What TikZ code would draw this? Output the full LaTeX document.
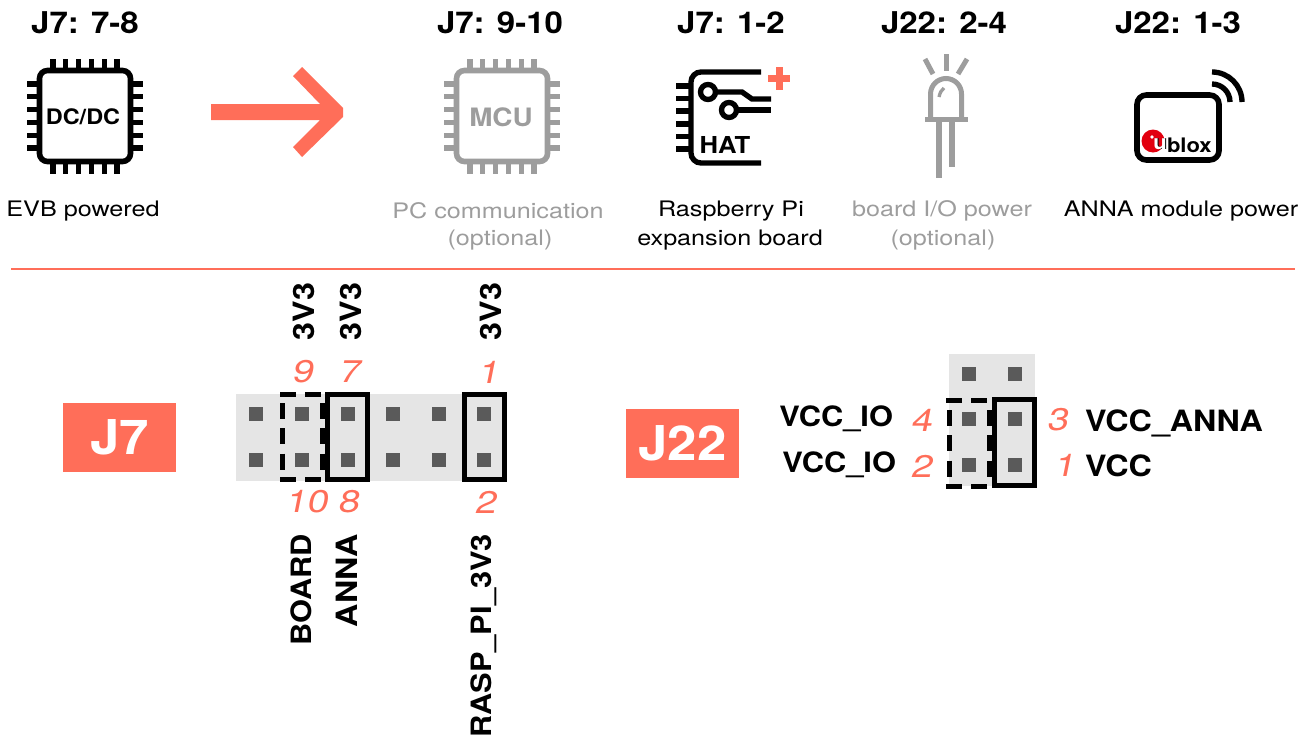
\documentclass[tikz,border=0pt]{standalone}
\usepackage{fontspec}
\setmainfont{TeX Gyre Heros}
\newfontfamily\wideb{TeX Gyre Heros}[FakeStretch=1.1]
\newfontfamily\widec{TeX Gyre Heros}[FakeStretch=1.18]
\newfontfamily\wides{TeX Gyre Heros}[FakeStretch=1.22,FakeSlant=0.2]
\definecolor{salmon}{HTML}{FF6E59}
\definecolor{gry}{HTML}{9D9D9D}
\definecolor{strip}{HTML}{E5E5E5}
\definecolor{pinc}{HTML}{5A5A5A}
\definecolor{ured}{HTML}{E2000F}
\tikzset{
  x=0.75pt,y=-0.75pt,
  every node/.style={inner sep=0pt,outer sep=0pt},
  title/.style={font=\wideb\bfseries\fontsize{22.5}{27}\selectfont,text=black},
  cap/.style={font=\widec\fontsize{16}{19}\selectfont,text=#1},
  cap/.default=black,
  lab/.style={font=\wideb\bfseries\fontsize{22}{27}\selectfont,text=black},
  labs/.style={font=\wideb\bfseries\fontsize{21}{27}\selectfont,text=black},
  num/.style={font=\wides\fontsize{23.5}{27}\selectfont,text=salmon},
  badge/.style={fill=salmon,text=white,font=\wideb\bfseries\fontsize{36}{40}\selectfont,minimum width=84.75pt,minimum height=51.75pt},
  jump/.style={draw=black,line width=3.75pt},
  jumpd/.style={draw=black,line width=3.75pt,dash pattern=on 12pt off 7pt},
  pinsq/.style={fill=pinc},
}
\newcommand{\chipicon}[3]{% cx cy color
  \draw[#3,line width=4.2pt,rounded corners=6pt] (#1-45.5,#2-45.5) rectangle (#1+45.5,#2+45.5);
  \foreach \d in {-32,-19.2,-6.4,6.4,19.2,32}{
    \draw[#3,line width=4pt] (#1+\d,#2-57) -- (#1+\d,#2-47);
    \draw[#3,line width=4pt] (#1+\d,#2+47) -- (#1+\d,#2+58);
    \draw[#3,line width=4pt] (#1-58,#2+\d) -- (#1-47,#2+\d);
    \draw[#3,line width=4pt] (#1+47,#2+\d) -- (#1+58,#2+\d);
  }
}
\newcommand{\pinat}[2]{\fill[pinsq] (#1-7,#2-7) rectangle (#1+7,#2+7);}
\begin{document}
\begin{tikzpicture}
\useasboundingbox (0,0) rectangle (1312,743);
% titles
\node[title] (t1) at (85,23) {J7: 7-8};
\node[title] (t2) at (500,23) {J7: 9-10};
\node[title] (t3) at (731,23) {J7: 1-2};
\node[title] (t4) at (944,23) {J22: 2-4};
\node[title] (t5) at (1178,23) {J22: 1-3};
% chip icons
\chipicon{85}{116}{black}
\node[font=\wideb\bfseries\fontsize{16}{18}\selectfont] (dc) at (83,117) {DC/DC};
\chipicon{502}{116}{gry}
\node[font=\wideb\bfseries\fontsize{19}{20}\selectfont,text=gry] (mcu) at (501,117) {MCU};
% big arrow
\fill[salmon] (211,104) -- (320,104) -- (293,76) -- (302,67) -- (343,108) -- (343,117) -- (302,157) -- (293,147) -- (320,120) -- (211,120) -- cycle;
% HAT icon
\draw[black,line width=4pt,rounded corners=7.5pt] (761,72) -- (691,72) -- (691,163) -- (761,163);
\foreach \y in {86,98.5,111,124,136.5,149}{\draw[black,line width=4pt] (676,\y) -- (691,\y);}
\draw[black,line width=4pt] (708,92) circle[radius=7.5];
\draw[black,line width=4pt] (729,110) circle[radius=7.5];
\draw[black,line width=4pt] (716,92) -- (742,92) -- (752,99) -- (771,99);
\draw[black,line width=4pt] (737,110) -- (771,110);
\node[font=\wideb\bfseries\fontsize{17.5}{20}\selectfont] (hat) at (725,145) {HAT};
\fill[salmon] (775.5,67) rectangle (783,90);
\fill[salmon] (768,74.5) rectangle (790,82);
% LED icon
\draw[gry,line width=3.75pt] (930.5,119) -- (930.5,94) arc[start angle=180,end angle=360,radius=15.5] -- (961.5,119);
\fill[gry] (925,117) rectangle (968,122);
\draw[gry,line width=4pt] (939,122) -- (939,178);
\draw[gry,line width=4pt] (952,122) -- (952,167);
\draw[gry,line width=3.75pt] (946,54) -- (946,71);
\draw[gry,line width=3.75pt] (925,59) -- (933,74);
\draw[gry,line width=3.75pt] (967,59) -- (958,74);
\draw[gry,line width=2.5pt] (944,88) .. controls (941,90) and (940,93) .. (939,97);
% u-blox module icon
\draw[black,line width=4.2pt,rounded corners=7pt] (1137,95) rectangle (1219,160);
\draw[black,line width=4pt] (1212,72) arc[start angle=270,end angle=360,radius=30];
\draw[black,line width=4pt] (1212,84) arc[start angle=270,end angle=360,radius=18];
\fill[ured] (1153,141) circle[radius=11.5];
\fill[white] (1152,137) circle[radius=1.8];
\node[font=\wideb\bfseries\fontsize{15}{16}\selectfont,text=black] (ushadow) at (1161.2,144) {u};
\node[font=\wideb\bfseries\fontsize{15}{16}\selectfont,text=white] (ulogo) at (1160,144) {u};
\node[font=\wideb\bfseries\fontsize{15}{16}\selectfont,anchor=west] (blox) at (1167,145) {blox};
% captions
\node[cap] (c1) at (83,211) {EVB powered};
\node[cap=gry] (c2) at (498,211) {PC communication};
\node[cap=gry] (c2b) at (500,240) {(optional)};
\node[cap] (c3) at (731,211) {Raspberry Pi};
\node[cap] (c3b) at (730,240) {expansion board};
\node[cap=gry] (c4) at (942,211) {board I/O power};
\node[cap=gry] (c4b) at (943,240) {(optional)};
\node[cap] (c5) at (1181,211) {ANNA module power};
% rule
\draw[salmon,line width=1.1pt] (11,269) -- (1295,269);
% badges
\node[badge] (j7) at (119.5,437.5) {J7};
\node[badge] (j22) at (682.5,443.5) {J22};
% J7 header
\fill[strip] (236,394) rectangle (505,481);
\foreach \x in {256,302,348,393,439,484}{\pinat{\x}{414}\pinat{\x}{460}}
\draw[jumpd] (280,394) -- (324,394);
\draw[jumpd] (280,479.5) -- (324,479.5);
\draw[jumpd] (282,403) -- (282,472);
\draw[jumpd] (322,403) -- (322,472);
\draw[jump] (327.5,394.5) rectangle (367.5,479.5);
\draw[jump] (464.5,394.5) rectangle (504.5,479.5);
\node[num] (n9) at (302,372) {9};
\node[num] (n7) at (349,372) {7};
\node[num] (n1) at (488,372) {1};
\node[num] (n10) at (306,502) {10};
\node[num] (n8) at (348,502) {8};
\node[num] (n2) at (485,502) {2};
\node[lab,rotate=90,anchor=east] (v9) at (304,283) {3V3};
\node[lab,rotate=90,anchor=east] (v7) at (351,283) {3V3};
\node[lab,rotate=90,anchor=east] (v1) at (491,283) {3V3};
\node[labs,rotate=90,anchor=east] (board) at (301,534) {BOARD};
\node[lab,rotate=90,anchor=east] (anna) at (347,534) {ANNA};
\node[labs,rotate=90,anchor=east] (rasp) at (484,534) {RASP\_PI\_3V3};
% J22 header
\fill[strip] (949,354) rectangle (1035,486);
\foreach \x in {969,1015}{\pinat{\x}{374}\pinat{\x}{419}\pinat{\x}{465}}
\draw[jumpd] (946,400) -- (990,400);
\draw[jumpd] (946,486) -- (990,486);
\draw[jumpd] (949,410) -- (949,477);
\draw[jumpd] (989,410) -- (989,477);
\draw[jump] (994.5,399.5) rectangle (1034.5,485.5);
\node[num] (m4) at (921,420) {4};
\node[num] (m2) at (921,466) {2};
\node[num] (m3) at (1057,420) {3};
\node[num] (m1) at (1064,465) {1};
\node[labs,anchor=east] (l4) at (893,419) {VCC\_IO};
\node[labs,anchor=east] (l2) at (896,465) {VCC\_IO};
\node[lab,anchor=west] (l3) at (1085,423) {VCC\_ANNA};
\node[lab,anchor=west] (l1) at (1085,466) {VCC};
\end{tikzpicture}
\end{document}
